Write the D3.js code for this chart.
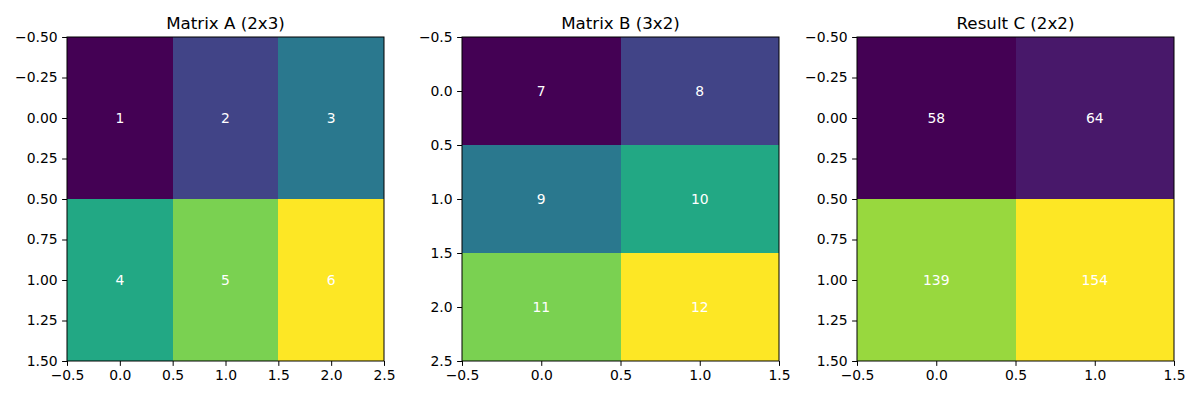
<!DOCTYPE html>
<html>
<head>
<meta charset="utf-8">
<script src="https://cdn.jsdelivr.net/npm/d3@7"></script>
<style>
  html, body { margin: 0; padding: 0; background: #fff; }
  svg { display: block; font-family: "DejaVu Sans", sans-serif; }
  .tick text { font-size: 13.9px; fill: #000; }
  .title { font-size: 16.7px; fill: #000; }
  .cell-label { font-size: 13.9px; fill: #fff; }
</style>
</head>
<body>
<div id="chart"></div>
<script>
/* ---------- dados ---------- */
const titles  = ['Matrix A (2x3)', 'Matrix B (3x2)', 'Result C (2x2)'];
const matrixA = [[1, 2, 3], [4, 5, 6]];
const matrixB = [[7, 8], [9, 10], [11, 12]];
const matrixC = [[58, 64], [139, 154]];
const xTicksA = [-0.5, 0, 0.5, 1, 1.5, 2, 2.5];
const xTicksBC = [-0.5, 0, 0.5, 1, 1.5];
const yTicksA = [-0.5, -0.25, 0, 0.25, 0.5, 0.75, 1, 1.25, 1.5];
const yTicksB = [-0.5, 0, 0.5, 1, 1.5, 2, 2.5];
const yTicksC = yTicksA;

const panels = [
  { title: titles[0], m: matrixA, xt: xTicksA,  yt: yTicksA, yf: '.2f', left: 67 },
  { title: titles[1], m: matrixB, xt: xTicksBC, yt: yTicksB, yf: '.1f', left: 462 },
  { title: titles[2], m: matrixC, xt: xTicksBC, yt: yTicksC, yf: '.2f', left: 857 }
];

/* ---------- svg ---------- */
const W = 1193, H = 397;
const plotTop = 37, plotBottom = 361, pw = 317;

const svg = d3.select('#chart').append('svg')
  .attr('width', W).attr('height', H);

const minus = s => s.replace('-', '\u2212');

panels.forEach(p => {
  const rows = p.m.length, cols = p.m[0].length;
  const x = d3.scaleLinear().domain([-0.5, cols - 0.5]).range([p.left, p.left + pw]);
  const y = d3.scaleLinear().domain([-0.5, rows - 0.5]).range([plotTop, plotBottom]);
  const vals = p.m.flat();
  const color = d3.scaleSequential(d3.interpolateViridis).domain(d3.extent(vals));

  const cells = [];
  p.m.forEach((row, i) => row.forEach((v, j) => cells.push({ i, j, v })));

  const g = svg.append('g');

  g.selectAll('rect.cell').data(cells).enter()
    .append('rect').attr('class', 'cell')
    .attr('x', d => x(d.j - 0.5))
    .attr('y', d => y(d.i - 0.5))
    .attr('width', x(0.5) - x(-0.5))
    .attr('height', y(0.5) - y(-0.5))
    .attr('fill', d => color(d.v))
    .attr('shape-rendering', 'crispEdges');

  g.selectAll('text.cell-label').data(cells).enter()
    .append('text').attr('class', 'cell-label')
    .attr('x', d => x(d.j))
    .attr('y', d => y(d.i))
    .attr('text-anchor', 'middle')
    .attr('dominant-baseline', 'central')
    .text(d => d.v);

  // eixos
  const xAxis = d3.axisBottom(x).tickValues(p.xt).tickSize(4.9).tickPadding(4.5)
    .tickFormat(d => minus(d3.format('.1f')(d)));
  const yAxis = d3.axisLeft(y).tickValues(p.yt).tickSize(4.9).tickPadding(4.5)
    .tickFormat(d => minus(d3.format(p.yf)(d)));

  const gx = g.append('g').attr('transform', `translate(0,${plotBottom})`).call(xAxis);
  const gy = g.append('g').attr('transform', `translate(${p.left},0)`).call(yAxis);
  [gx, gy].forEach(a => {
    a.attr('font-family', null).attr('font-size', null);
    a.select('.domain').remove();
    a.selectAll('.tick line').attr('stroke', '#000').attr('stroke-width', 1);
  });

  // moldura
  g.append('rect')
    .attr('x', p.left).attr('y', plotTop)
    .attr('width', pw).attr('height', plotBottom - plotTop)
    .attr('fill', 'none').attr('stroke', '#000').attr('stroke-width', 1);

  g.append('text').attr('class', 'title')
    .attr('x', p.left + pw / 2).attr('y', plotTop - 8)
    .attr('text-anchor', 'middle')
    .text(p.title);
});
</script>
</body>
</html>
